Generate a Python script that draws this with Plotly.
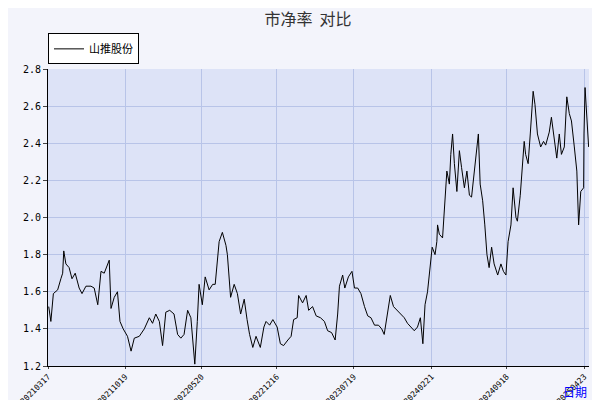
import datetime as dt
import plotly.graph_objects as go

# 山推股份 市净率 (day offset from 2021-03-17, value)
start = dt.date(2021, 3, 17)
day_offset = [2, 8, 15, 27, 36, 41, 44, 50, 59, 67, 76, 87, 95, 106, 120, 129, 139, 148, 157, 167,
              171, 176, 185, 194, 201, 210, 222, 232, 241, 255, 269, 283, 292, 301, 311, 320, 329, 340, 352, 362,
              371, 380, 390, 399, 407, 410, 417, 422, 431, 439, 450, 460, 467, 473, 478, 487, 497, 501, 510, 520,
              529, 538, 548, 556, 563, 572, 581, 593, 603, 609, 619, 628, 640, 649, 658, 670, 679, 686, 696, 700,
              711, 721, 728, 739, 749, 761, 772, 781, 792, 802, 809, 814, 823, 829, 839, 849, 856, 865, 874, 884,
              893, 902, 912, 923, 932, 939, 947, 956, 965, 975, 986, 995, 1004, 1014, 1023, 1032, 1040, 1047, 1053, 1060,
              1068, 1073, 1081, 1086, 1088, 1093, 1102, 1108, 1114, 1121, 1125, 1130, 1135, 1142, 1149, 1155, 1163, 1170, 1177, 1183,
              1190, 1198, 1202, 1207, 1214, 1220, 1226, 1232, 1239, 1246, 1256, 1265, 1272, 1279, 1285, 1293, 1299, 1307, 1311, 1319,
              1325, 1330, 1334, 1341, 1347, 1350, 1355, 1360, 1367, 1376, 1384, 1390, 1400, 1406, 1414, 1421, 1428, 1434, 1442, 1449,
              1456, 1462, 1470, 1477, 1482, 1488, 1496, 1497, 1500, 1505, 1510]
pb = [1.52, 1.44, 1.59, 1.61, 1.67, 1.70, 1.82, 1.75, 1.73, 1.67, 1.70, 1.62, 1.59, 1.63, 1.63, 1.62, 1.53, 1.71, 1.70, 1.75,
      1.77, 1.51, 1.57, 1.60, 1.44, 1.40, 1.36, 1.28, 1.35, 1.36, 1.40, 1.46, 1.43, 1.48, 1.44, 1.31, 1.49, 1.50, 1.48, 1.37,
      1.35, 1.37, 1.50, 1.46, 1.24, 1.21, 1.44, 1.64, 1.53, 1.68, 1.61, 1.64, 1.64, 1.78, 1.87, 1.92, 1.85, 1.80, 1.57, 1.64,
      1.59, 1.48, 1.56, 1.45, 1.37, 1.30, 1.36, 1.30, 1.41, 1.44, 1.42, 1.45, 1.41, 1.32, 1.31, 1.34, 1.36, 1.45, 1.46, 1.58,
      1.54, 1.58, 1.50, 1.52, 1.47, 1.46, 1.44, 1.39, 1.38, 1.34, 1.48, 1.63, 1.69, 1.62, 1.68, 1.71, 1.62, 1.62, 1.59, 1.52,
      1.47, 1.46, 1.42, 1.42, 1.40, 1.37, 1.48, 1.58, 1.52, 1.50, 1.48, 1.46, 1.43, 1.41, 1.39, 1.41, 1.46, 1.32, 1.53, 1.60,
      1.75, 1.84, 1.80, 1.87, 1.96, 1.91, 1.89, 2.06, 2.25, 2.18, 2.34, 2.45, 2.29, 2.14, 2.36, 2.27, 2.16, 2.25, 2.12, 2.11,
      2.23, 2.36, 2.45, 2.18, 2.09, 1.96, 1.80, 1.73, 1.84, 1.75, 1.69, 1.75, 1.71, 1.69, 1.87, 1.96, 2.16, 2.00, 1.98, 2.12,
      2.27, 2.41, 2.34, 2.29, 2.45, 2.54, 2.68, 2.61, 2.45, 2.38, 2.41, 2.39, 2.46, 2.54, 2.43, 2.32, 2.45, 2.34, 2.38, 2.65,
      2.56, 2.52, 2.38, 2.25, 1.96, 2.14, 2.16, 2.45, 2.70, 2.54, 2.38]
tick_dates = ["20210317", "20211019", "20220520", "20221216", "20230719", "20240221", "20240918", "20250423"]

dates = [start + dt.timedelta(days=d) for d in day_offset]
tick_vals = [dt.datetime.strptime(t, "%Y%m%d").date() for t in tick_dates]

fig = go.Figure()
fig.add_trace(go.Scatter(x=dates, y=pb, mode="lines", name="山推股份",
                         line=dict(color="black", width=1)))

fig.update_layout(
    width=600, height=400,
    margin=dict(l=40, r=19, t=61, b=42, autoexpand=False),
    paper_bgcolor="#f3f4fb", plot_bgcolor="#dde3f7",
    font=dict(family="DejaVu Sans Mono", size=10, color="black"),
    title=dict(text="市净率  对比", x=0.5, y=0.985, xanchor="center", yanchor="top",
               font=dict(family="Noto Sans CJK SC", size=16, color="#333333")),
    showlegend=True,
    legend=dict(x=0.0, y=1.12, xanchor="left", yanchor="top", bgcolor="white",
                bordercolor="black", borderwidth=1, itemwidth=30,
                font=dict(family="Noto Sans CJK SC", size=11)),
    xaxis=dict(range=[start, start + dt.timedelta(days=1511)], tickvals=tick_vals, ticktext=tick_dates,
               tickangle=-45, showgrid=True, gridcolor="#b8c4e8", ticks="outside", ticklen=2,
               showline=True, linecolor="black", tickfont=dict(size=8)),
    yaxis=dict(range=[1.2, 2.8], dtick=0.2, tickformat=".1f", showgrid=True, gridcolor="#b8c4e8",
               ticks="outside", ticklen=4, showline=True, linecolor="black", zeroline=False),
    annotations=[dict(text="日期", xref="paper", yref="paper", x=1.0, y=-0.05, xanchor="right",
                      yanchor="top", showarrow=False,
                      font=dict(family="Noto Sans CJK SC", size=12, color="blue"))],
)

fig.write_html("out.html")
